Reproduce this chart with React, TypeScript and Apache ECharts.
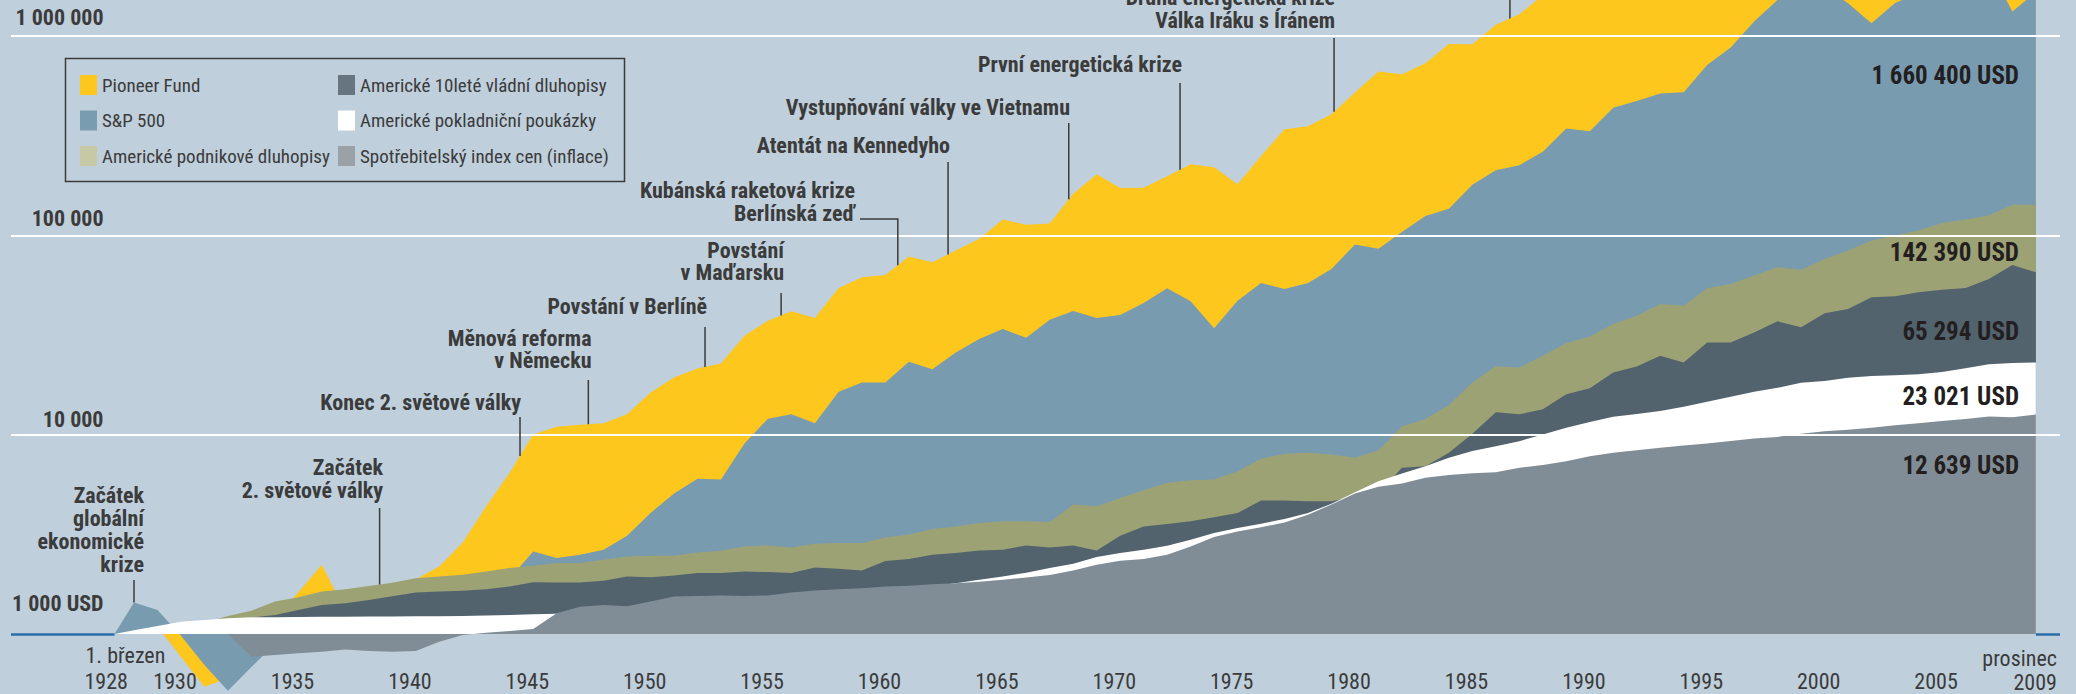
import React, { useEffect, useRef } from "react";
import * as echarts from "echarts";

// ---------- data (values at the end of each year, USD, start 1 000 USD on 1 March 1928) ----------
const FIRST_YEAR = 1928;
const START_TIME = 1928.17; // 1. březen 1928
const START_VALUE = 1000;

const PIONEER = [
  1250, 1090, 766, 543, 600, 1050, 1200, 1620, 2223, 1300,
  1550, 1650, 1880, 2182, 2880, 4372, 6438, 10035, 10972, 11228,
  11401, 12655, 16271, 19361, 21490, 22771, 31353, 37297, 41593, 38480,
  54300, 61700, 63350, 78300, 73400, 83950, 96100, 120200, 113100, 114800,
  162000, 202500, 173000, 173600, 197900, 227400, 219600, 180400, 250000, 341000,
  353300, 406000, 521000, 663500, 643000, 730600, 913400, 910300, 1139000, 1288000,
  1600000, 2100000, 2000000, 2600000, 2900000, 3300000, 3200000, 4100000, 4900000, 6200000,
  6800000, 7600000, 7900000, 7300000, 6100000, 7800000, 8500000, 9000000, 10200000, 10700000,
  6800000, 8600000,
];

const SP500 = [
  1437, 1320, 980, 700, 519, 683, 890, 1141, 1520, 1000,
  1300, 1300, 1180, 1050, 1260, 1580, 1900, 2596, 2404, 2497,
  2645, 3113, 4051, 5067, 6007, 5957, 9042, 12035, 12653, 11400,
  16382, 18270, 18270, 23200, 21320, 25860, 30180, 33880, 30640, 37740,
  41730, 38480, 39840, 45800, 54300, 46700, 34170, 47020, 57750, 53860,
  57750, 67900, 90000, 85630, 103900, 125000, 136100, 179800, 212200, 224800,
  262600, 344000, 333400, 437200, 472100, 515900, 522000, 716100, 876000, 1185000,
  1520000, 1860000, 1770000, 1460000, 1160000, 1464000, 1650000, 1730000, 2000000, 2210000,
  1330000, 1660400,
];

const CORP_BONDS = [
  1030, 1060, 1120, 1140, 1232, 1310, 1454, 1530, 1633, 1679,
  1740, 1810, 1906, 1943, 1981, 2058, 2141, 2198, 2269, 2269,
  2357, 2449, 2469, 2469, 2566, 2617, 2750, 2782, 2719, 2838,
  2861, 2861, 3052, 3161, 3364, 3467, 3607, 3675, 3675, 3649,
  4459, 4372, 4818, 5262, 5734, 5907, 5957, 6558, 7572, 8024,
  8117, 7960, 7660, 8350, 11000, 12000, 14100, 18270, 22050, 21740,
  24870, 28810, 31130, 35910, 39540, 45270, 44390, 54300, 57070, 62840,
  69250, 67340, 76240, 83950, 94250, 99900, 105800, 115300, 120200, 125900,
  142600, 142390,
];

const TREASURY_10Y = [
  1010, 1045, 1100, 1090, 1170, 1210, 1246, 1321, 1400, 1427,
  1483, 1545, 1614, 1633, 1646, 1679, 1730, 1820, 1814, 1814,
  1848, 1943, 1929, 1965, 2021, 2021, 2058, 2045, 2021, 2157,
  2124, 2083, 2322, 2376, 2498, 2548, 2626, 2647, 2782, 2719,
  2782, 2626, 3113, 3467, 3565, 3675, 3848, 4049, 4670, 4670,
  4632, 4632, 4900, 5100, 6820, 6950, 8117, 10100, 12950, 12650,
  13410, 15950, 17100, 20510, 21990, 24870, 23030, 29040, 29040, 32610,
  37050, 34560, 40640, 42700, 48920, 49480, 51830, 53420, 54490, 60470,
  71120, 65294,
];

const TBILLS = [
  1045, 1097, 1153, 1176, 1200, 1213, 1215, 1218, 1220, 1222,
  1224, 1225, 1226, 1228, 1232, 1238, 1245, 1256, 1262, 1272,
  1285, 1300, 1316, 1336, 1359, 1384, 1395, 1418, 1452, 1496,
  1518, 1563, 1605, 1640, 1740, 1800, 1870, 1943, 2030, 2141,
  2250, 2432, 2548, 2647, 2773, 2972, 3213, 3404, 3578, 3778,
  4049, 4510, 5142, 5842, 6385, 6950, 7660, 8272, 8762, 9285,
  10035, 10850, 11570, 12320, 12700, 13150, 13800, 14650, 15500, 16430,
  17200, 18250, 18610, 19320, 19720, 19900, 20100, 20640, 21560, 22600,
  22900, 23021,
];

const CPI = [
  1000, 1000, 1000, 1000, 1000, 769, 784, 800, 815, 837,
  821, 815, 821, 915, 988, 1015, 1035, 1060, 1270, 1372,
  1400, 1380, 1454, 1541, 1553, 1560, 1553, 1560, 1614, 1651,
  1679, 1698, 1730, 1745, 1778, 1800, 1831, 1869, 1920, 1980,
  2082, 2224, 2330, 2378, 2497, 2750, 3066, 3273, 3428, 3630,
  3971, 4468, 5073, 5478, 5690, 6080, 6280, 6410, 6480, 6820,
  7050, 7365, 7803, 8112, 8358, 8594, 8830, 9040, 9291, 9570,
  9750, 10100, 10420, 10580, 10830, 11150, 11430, 11700, 12000, 12350,
  12250, 12639,
];

const SERIES_NAMES = [
  "Pioneer Fund",
  "S&P 500",
  "Americké podnikové dluhopisy",
  "Americké 10leté vládní dluhopisy",
  "Americké pokladniční poukázky",
  "Spotřebitelský index cen (inflace)",
];

const YEAR_TICKS = [1930, 1935, 1940, 1945, 1950, 1955, 1960, 1965, 1970, 1975, 1980, 1985, 1990, 1995, 2000, 2005];
const VALUE_TICKS = [1000000, 100000, 10000, 1000];
const VALUE_TICK_LABELS = ["1 000 000", "100 000", "10 000", "1 000 USD"];
const END_LABELS = ["1 660 400 USD", "142 390 USD", "65 294 USD", "23 021 USD", "12 639 USD"];

// ---------- styling ----------
const BG = "#BFCFDC";
const TEXT = "#3B3B3B";
const END_TEXT = "#231F20";
const BASE_BLUE = "#2B6CA8";
const AREA_COLORS = ["#FDC71D", "#789BB0", "#9DA275", "#52636E", "#FFFFFF", "#818D96"];
const LEGEND_COLORS = ["#FDC71D", "#7A9CB1", "#C7C8A6", "#66757F", "#FFFFFF", "#9AA2A8"];
const FONT = "'Liberation Sans Narrow', 'Arial Narrow', 'Roboto Condensed', 'DejaVu Sans Condensed', sans-serif";

const X_MIN = 1923.7615;
const X_MAX = 2011.0275;
const Y_MIN = 500;
const Y_MAX = 1517600;

type Ann = {
  lines: string[];
  t: number; // time of the event on the x axis
  anchor: number; // index of series the leader line ends on
  right: number;
  ys: number[];
  top: number;
  elbowFrom?: number;
};

const ANNOTATIONS: Ann[] = [
  { lines: ["Začátek", "globální", "ekonomické", "krize"], t: 1929.0, anchor: 1, right: 144, ys: [495, 518, 541.5, 564.5], top: 580 },
  { lines: ["Začátek", "2. světové války"], t: 1939.46, anchor: 2, right: 383, ys: [467, 490], top: 508 },
  { lines: ["Konec 2. světové války"], t: 1945.44, anchor: 0, right: 521, ys: [402], top: 417 },
  { lines: ["Měnová reforma", "v Německu"], t: 1948.35, anchor: 0, right: 591.5, ys: [338, 360], top: 380 },
  { lines: ["Povstání v Berlíně"], t: 1953.32, anchor: 0, right: 707, ys: [306], top: 327 },
  { lines: ["Povstání", "v Maďarsku"], t: 1956.56, anchor: 0, right: 784, ys: [250, 272], top: 293 },
  { lines: ["Kubánská raketová krize", "Berlínská zeď"], t: 1961.53, anchor: 0, right: 855, ys: [190, 213], top: 219, elbowFrom: 860 },
  { lines: ["Atentát na Kennedyho"], t: 1963.67, anchor: 0, right: 950, ys: [145], top: 162 },
  { lines: ["Vystupňování války ve Vietnamu"], t: 1968.81, anchor: 0, right: 1070, ys: [107], top: 123 },
  { lines: ["První energetická krize"], t: 1973.55, anchor: 0, right: 1182, ys: [64], top: 83 },
  { lines: ["Druhá energetická krize", "Válka Iráku s Íránem"], t: 1980.11, anchor: 0, right: 1335, ys: [-3, 20], top: 38 },
  { lines: [], t: 1987.6, anchor: 0, right: 0, ys: [], top: 0 },
];

const ALL_SERIES = [PIONEER, SP500, CORP_BONDS, TREASURY_10Y, TBILLS, CPI];

function toPoints(values: number[]): number[][] {
  const pts: number[][] = [[START_TIME, START_VALUE]];
  values.forEach((v, i) => pts.push([FIRST_YEAR + i + 1, v]));
  return pts;
}

function buildOption(): any {
  const series: any[] = ALL_SERIES.map((vals, i) => ({
    type: "line",
    name: SERIES_NAMES[i],
    data: toPoints(vals),
    symbol: "none",
    showSymbol: false,
    lineStyle: { width: 0, opacity: 0 },
    itemStyle: { color: AREA_COLORS[i] },
    areaStyle: { color: AREA_COLORS[i], opacity: 1, origin: START_VALUE },
    silent: true,
    emphasis: { disabled: true },
    z: 2,
  }));
  series[series.length - 1].markLine = {
    silent: true,
    symbol: ["none", "none"],
    label: { show: false },
    z: 6,
    data: [
      { yAxis: 10000, lineStyle: { color: "#FFFFFF", width: 2, type: "solid" } },
      { yAxis: 100000, lineStyle: { color: "#FFFFFF", width: 2, type: "solid" } },
      { yAxis: 1000000, lineStyle: { color: "#FFFFFF", width: 2, type: "solid" } },
      [
        { coord: [X_MIN, START_VALUE], lineStyle: { color: BASE_BLUE, width: 2.5, type: "solid" } },
        { coord: [START_TIME, START_VALUE] },
      ],
      [
        { coord: [FIRST_YEAR + ALL_SERIES[0].length, START_VALUE], lineStyle: { color: BASE_BLUE, width: 2.5, type: "solid" } },
        { coord: [X_MAX, START_VALUE] },
      ],
    ],
  };

  const legendItem = (i: number) => ({
    name: SERIES_NAMES[i],
    itemStyle: { color: LEGEND_COLORS[i], borderWidth: 0 },
  });
  const legendBase = {
    orient: "vertical",
    top: 75,
    padding: 0,
    itemWidth: 17,
    itemHeight: 20,
    itemGap: 15.5,
    icon: "rect",
    selectedMode: false,
    textStyle: { fontFamily: FONT, fontSize: 19, color: TEXT },
  };

  return {
    animation: false,
    backgroundColor: BG,
    grid: { left: 11, right: 16, top: 0, bottom: 0, containLabel: false },
    xAxis: {
      type: "value",
      min: X_MIN,
      max: X_MAX,
      show: false,
    },
    yAxis: {
      type: "log",
      logBase: 10,
      min: Y_MIN,
      max: Y_MAX,
      show: false,
    },
    legend: [
      { ...legendBase, left: 80, data: [0, 1, 2].map(legendItem) },
      { ...legendBase, left: 338, data: [3, 4, 5].map(legendItem) },
    ],
    series,
  };
}

function buildGraphic(chart: any): any[] {
  const px = (t: number, v: number) => chart.convertToPixel({ gridIndex: 0 }, [t, v]) as number[];
  const els: any[] = [];
  const text = (s: string, x: number, y: number, size: number, bold: boolean, align: string, fill = TEXT) => ({
    type: "text",
    x,
    y,
    z: 100,
    silent: true,
    style: {
      text: s,
      fill,
      fontFamily: FONT,
      fontSize: size,
      fontWeight: bold ? "bold" : "normal",
      align,
      verticalAlign: "middle",
    },
  });

  // value labels
  const offsets = [-19, -17, -15, -31];
  VALUE_TICKS.forEach((v, i) => {
    const y = px(X_MIN, v)[1];
    els.push(text(VALUE_TICK_LABELS[i], 103.5, y + offsets[i], 22, true, "right"));
  });

  // year labels
  YEAR_TICKS.forEach((yr) => {
    const x = px(yr + 0.75, START_VALUE)[0];
    els.push(text(String(yr), x, 681.5, 22, false, "center"));
  });
  const startX = px(START_TIME, START_VALUE)[0];
  els.push(text("1. březen", startX - 29, 655, 22, false, "left"));
  els.push(text(String(FIRST_YEAR), startX - 30, 681.5, 22, false, "left"));
  const endX = px(FIRST_YEAR + ALL_SERIES[0].length, START_VALUE)[0];
  els.push(text("prosinec", endX + 21, 658, 22, false, "right"));
  els.push(text(String(FIRST_YEAR + ALL_SERIES[0].length - 1), endX + 21, 682, 22, false, "right"));

  // annotations with leader lines
  ANNOTATIONS.forEach((a) => {
    a.lines.forEach((ln, i) => els.push(text(ln, a.right, a.ys[i], 22, true, "right")));
    const pts = toPoints(ALL_SERIES[a.anchor]);
    let k = 0;
    while (k < pts.length - 2 && pts[k + 1][0] < a.t) k++;
    const p0 = px(pts[k][0], pts[k][1]);
    const p1 = px(pts[k + 1][0], pts[k + 1][1]);
    const lx = px(a.t, START_VALUE)[0];
    const f = (lx - p0[0]) / (p1[0] - p0[0]);
    const by = Math.max(0, p0[1] + f * (p1[1] - p0[1]));
    const points = a.elbowFrom !== undefined
      ? [[a.elbowFrom, a.top], [lx, a.top], [lx, by]]
      : [[lx, a.top], [lx, by]];
    els.push({
      type: "polyline",
      z: 100,
      silent: true,
      shape: { points },
      style: { stroke: TEXT, lineWidth: 1.5, fill: null },
    });
  });

  // end values
  const endYs = [75, 252.5, 331.5, 396.5, 465.5];
  END_LABELS.forEach((s, i) => els.push(text(s, 2019, endYs[i], 25, true, "right", END_TEXT)));

  // legend frame
  els.push({
    type: "rect",
    z: 100,
    silent: true,
    shape: { x: 65.5, y: 58.5, width: 559, height: 123 },
    style: { fill: null, stroke: TEXT, lineWidth: 1.5 },
  });
  return els;
}

export default function App() {
  const ref = useRef<HTMLDivElement>(null);
  useEffect(() => {
    document.body.style.margin = "0";
    const el = ref.current;
    if (!el) return;
    const chart = echarts.init(el, null, { renderer: "svg" });
    chart.setOption(buildOption());
    chart.setOption({ graphic: buildGraphic(chart) });
    return () => chart.dispose();
  }, []);
  return (
    <div
      ref={ref}
      style={{ position: "absolute", left: 0, top: 0, width: 2076, height: 694, background: BG }}
    />
  );
}
